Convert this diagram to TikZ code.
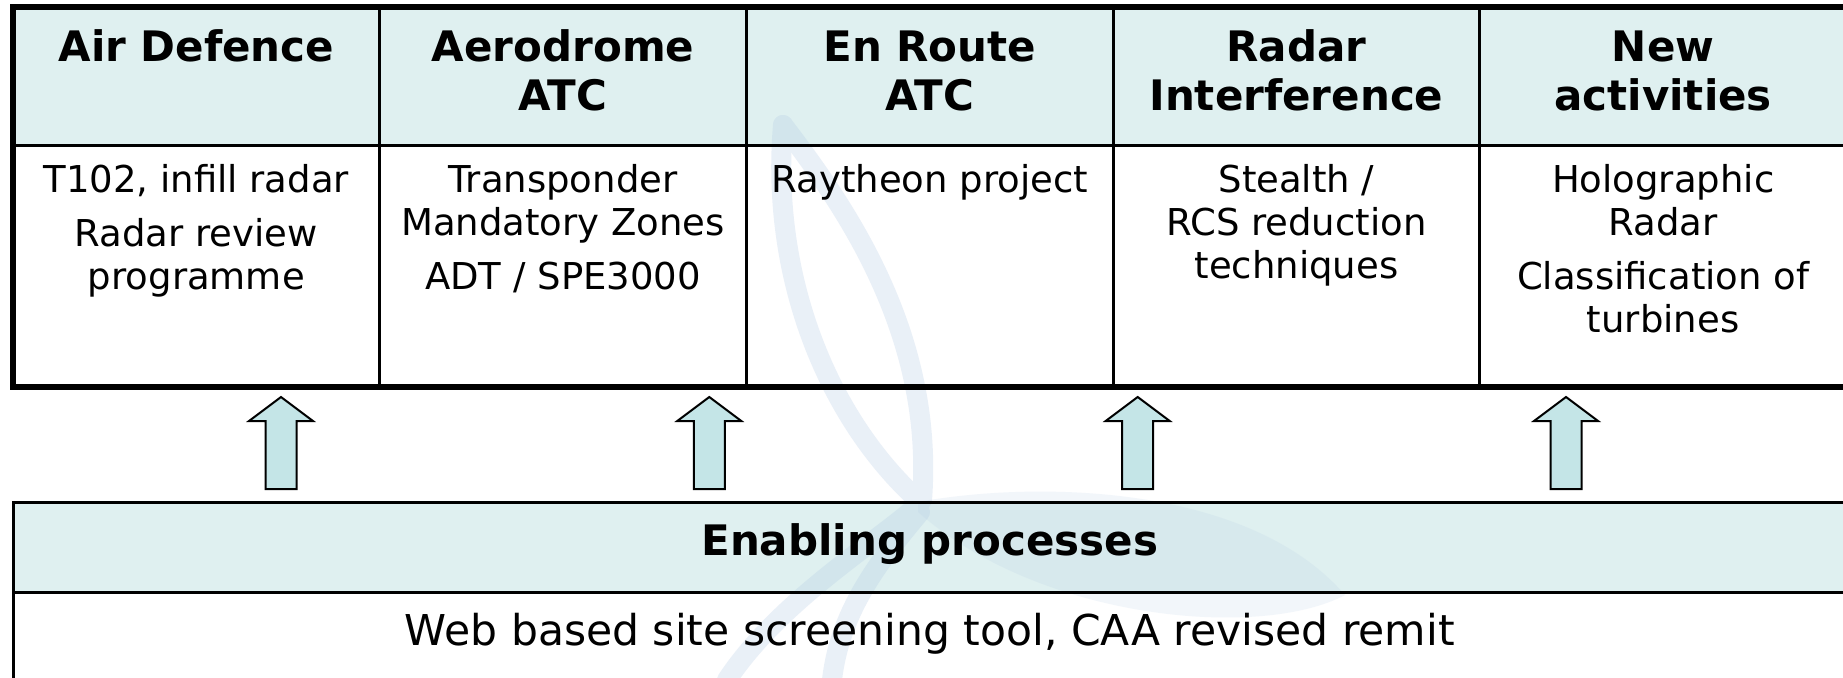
\documentclass[tikz,border=0pt]{standalone}
\usepackage{fontspec}
\setmainfont{DejaVu Sans}
\definecolor{hdrfill}{RGB}{223,240,240}
\definecolor{arrfill}{RGB}{196,229,231}
\definecolor{wmark}{RGB}{178,202,228}
\begin{document}
\begin{tikzpicture}[x=1pt,y=-1pt,
  hdrtext/.style={anchor=north,inner sep=0pt,align=center,font=\bfseries\fontsize{42}{49}\selectfont},
  bodytext/.style={anchor=north,inner sep=0pt,align=center,font=\fontsize{37}{43}\selectfont},
  thickrule/.style={draw=black,line width=6pt},
  thinrule/.style={draw=black,line width=3pt},
  arrowshape/.style={draw=black,line width=2pt,fill=arrfill,line join=miter},
  wmstroke/.style={draw=wmark,line width=20pt,line cap=round},
  pics/uparrow/.style={code={
    \path[arrowshape] (0,0) -- (32,24) -- (15.5,24) -- (15.5,92) -- (-15.5,92) -- (-15.5,24) -- (-32,24) -- cycle;}}
]
\clip (0,0) rectangle (1843,677);
\fill[white] (0,0) rectangle (1843,677);
% header fills
\fill[hdrfill] (13,7) rectangle (1846.5,145);
\fill[hdrfill] (13,502.5) rectangle (1846.5,592);
% watermark (faint wind turbine)
\fill[wmark,opacity=0.17] (918,502) .. controls (1040,480) and (1250,485) .. (1345,595)
             .. controls (1260,640) and (1040,620) .. (918,512) -- cycle;
\begin{scope}[transparency group,opacity=0.28]
  \draw[wmstroke] (783,125) .. controls (770,280) and (830,420) .. (918,500);
  \draw[wmstroke] (783,125) .. controls (840,200) and (935,330) .. (922,500);
  \draw[wmstroke] (918,505) .. controls (880,540) and (780,600) .. (727,680);
  \draw[wmstroke] (920,512) .. controls (880,560) and (840,610) .. (832,680);
\end{scope}
% top table
\draw[thinrule] (13,145) -- (1846.5,145);
\foreach \xx in {379.7,746.4,1113.1,1479.8} \draw[thinrule] (\xx,7) -- (\xx,387);
\draw[thickrule] (13,7) rectangle (1846.5,387);
% bottom table
\draw[thinrule] (13,502.5) rectangle (1846.5,700);
\draw[thinrule] (13,592) -- (1846.5,592);
% header texts
\node[hdrtext] (h1) at (196.35,29.5) {Air Defence};
\node[hdrtext] (h2) at (563.05,29.5) {Aerodrome\\ATC};
\node[hdrtext] (h3) at (929.75,30.5) {En Route\\ATC};
\node[hdrtext] (h4) at (1296.45,29.5) {Radar\\Interference};
\node[hdrtext] (h5) at (1663.15,30.5) {New\\activities};
% body texts
\node[bodytext] (b1) at (196.35,164.2) {T102, infill radar\\[11pt]Radar review\\programme};
\node[bodytext] (b2) at (563.05,164.2) {Transponder\\Mandatory Zones\\[11pt]ADT / SPE3000};
\node[bodytext] (b3) at (929.75,164.2) {Raytheon project};
\node[bodytext] (b4) at (1296.45,164.2) {Stealth /\\RCS reduction\\techniques};
\node[bodytext] (b5) at (1663.15,164.2) {Holographic\\Radar\\[11pt]Classification of\\turbines};
% bottom texts
\node[anchor=base,inner sep=0pt,font=\bfseries\fontsize{42}{49}\selectfont] (en) at (929.75,555) {Enabling processes};
\node[anchor=base,inner sep=0pt,font=\fontsize{42.5}{49}\selectfont] (web) at (929.75,645) {Web based site screening tool, CAA revised remit};
% arrows
\foreach \ax in {281,709.3,1137.7,1566} \pic at (\ax,397) {uparrow};
\end{tikzpicture}
\end{document}
